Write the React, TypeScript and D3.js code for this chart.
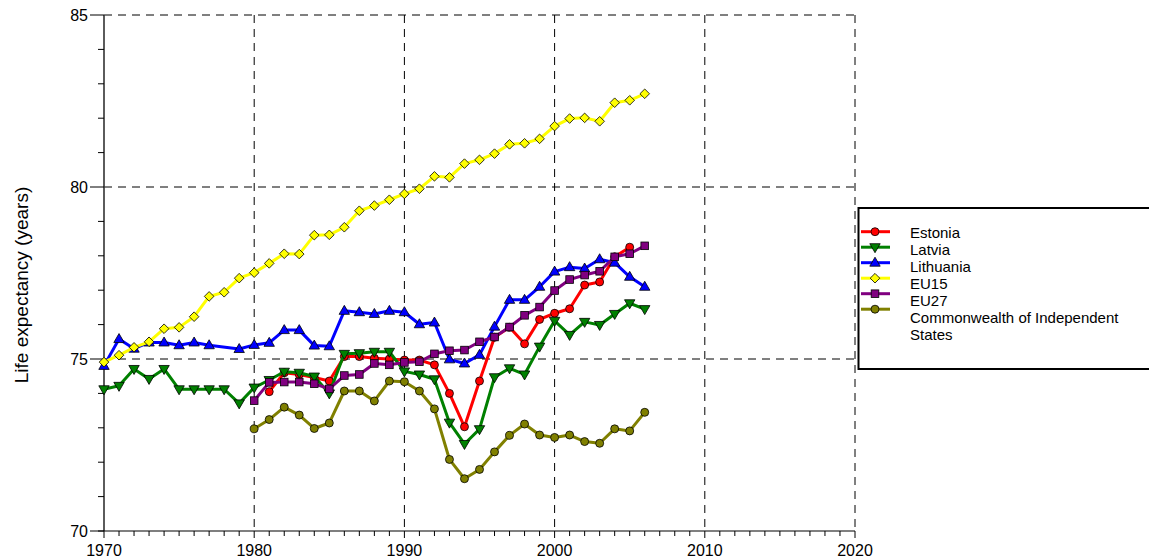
import React from 'react';
import * as d3 from 'd3';

const years = [1970, 1971, 1972, 1973, 1974, 1975, 1976, 1977, 1978, 1979,
  1980, 1981, 1982, 1983, 1984, 1985, 1986, 1987, 1988, 1989,
  1990, 1991, 1992, 1993, 1994, 1995, 1996, 1997, 1998, 1999,
  2000, 2001, 2002, 2003, 2004, 2005, 2006];

const estonia = [null, null, null, null, null, null, null, null, null, null,
  null, 74.05, 74.6, 74.55, 74.46, 74.36, 75.07, 75.07, 75.02, 75.0,
  74.97, 74.97, 74.83, 74.0, 73.03, 74.36, 75.63, 75.92, 75.44, 76.15,
  76.33, 76.46, 77.15, 77.24, 77.97, 78.25, null];
const latvia = [74.12, 74.22, 74.71, 74.42, 74.71, 74.12, 74.12, 74.12, 74.12, 73.71,
  74.17, 74.39, 74.63, 74.6, 74.49, 74.0, 75.15, 75.17, 75.21, 75.21,
  74.64, 74.55, 74.41, 73.15, 72.53, 72.96, 74.47, 74.73, 74.55, 75.36,
  76.11, 75.7, 76.08, 75.99, 76.31, 76.62, 76.45];
const lithuania = [74.8, 75.58, 75.3, 75.48, 75.48, 75.4, 75.48, 75.4, null, 75.29,
  75.41, 75.47, 75.84, 75.84, 75.39, 75.37, 76.4, 76.36, 76.31, 76.4,
  76.36, 76.01, 76.06, 74.99, 74.87, 75.12, 75.94, 76.72, 76.72, 77.1,
  77.54, 77.67, 77.63, 77.9, 77.8, 77.39, 77.1];
const eu15 = [74.91, 75.11, 75.34, 75.5, 75.88, 75.92, 76.23, 76.82, 76.94, 77.35,
  77.51, 77.78, 78.06, 78.05, 78.6, 78.61, 78.83, 79.31, 79.46, 79.63,
  79.8, 79.95, 80.31, 80.28, 80.68, 80.79, 80.97, 81.24, 81.27, 81.4,
  81.77, 81.99, 82.01, 81.91, 82.45, 82.52, 82.71];
const eu27 = [null, null, null, null, null, null, null, null, null, null,
  73.79, 74.32, 74.33, 74.33, 74.28, 74.13, 74.52, 74.55, 74.87, 74.83,
  74.9, 74.92, 75.15, 75.24, 75.26, 75.5, 75.64, 75.93, 76.27, 76.51,
  76.99, 77.31, 77.44, 77.55, 77.97, 78.06, 78.29];
const cis = [null, null, null, null, null, null, null, null, null, null,
  72.97, 73.24, 73.6, 73.37, 72.98, 73.14, 74.07, 74.07, 73.78, 74.36,
  74.34, 74.07, 73.55, 72.08, 71.52, 71.79, 72.3, 72.78, 73.11, 72.79,
  72.72, 72.79, 72.6, 72.55, 72.97, 72.91, 73.45];

const seriesNames = ['Estonia', 'Latvia', 'Lithuania', 'EU15', 'EU27', 'Commonwealth of Independent States'];
const legendLines = [['Estonia'], ['Latvia'], ['Lithuania'], ['EU15'], ['EU27'], ['Commonwealth of Independent', 'States']];
const xTicks = [1970, 1980, 1990, 2000, 2010, 2020];
const yTicks = [70, 75, 80, 85];

const series = [
  { name: seriesNames[0], values: estonia, color: '#ff0000', marker: 'circle' },
  { name: seriesNames[1], values: latvia, color: '#008000', marker: 'tridown' },
  { name: seriesNames[2], values: lithuania, color: '#0000ff', marker: 'triup' },
  { name: seriesNames[3], values: eu15, color: '#ffff00', marker: 'diamond' },
  { name: seriesNames[4], values: eu27, color: '#800080', marker: 'square' },
  { name: seriesNames[5], values: cis, color: '#808000', marker: 'circle' },
];

const FONT = 'Liberation Sans, Arial, sans-serif';

function Marker({ type, x, y, fill }: any) {
  const st = { fill, stroke: '#000', strokeWidth: 0.8 };
  if (type === 'circle') return <circle cx={x} cy={y} r={4} {...st} />;
  if (type === 'square') return <rect x={x - 3.8} y={y - 3.8} width={7.6} height={7.6} {...st} />;
  if (type === 'diamond')
    return <path d={`M${x},${y - 4.8}L${x + 4.8},${y}L${x},${y + 4.8}L${x - 4.8},${y}Z`} {...st} />;
  if (type === 'triup')
    return <path d={`M${x},${y - 5.5}L${x + 5.2},${y + 3.5}L${x - 5.2},${y + 3.5}Z`} {...st} />;
  return <path d={`M${x},${y + 5.5}L${x + 5.2},${y - 3.5}L${x - 5.2},${y - 3.5}Z`} {...st} />;
}

export default function App() {
  const x = d3.scaleLinear().domain([1970, 2020]).range([104, 855]);
  const y = d3.scaleLinear().domain([70, 85]).range([531, 15]);

  const line = d3.line<[number, number]>()
    .x(d => x(d[0]))
    .y(d => y(d[1]));

  const minorX = d3.range(1970, 2021);
  const minorY = d3.range(70, 86);

  return (
    <svg width={1149} height={560} style={{ position: 'absolute', left: 0, top: 0, background: '#fff' }}
      fontFamily={FONT}>
      {/* grid */}
      {xTicks.slice(1).map(t => (
        <line key={'gx' + t} x1={x(t)} x2={x(t)} y1={y(85)} y2={y(70)}
          stroke="#000" strokeWidth={1} strokeDasharray="8,6" />
      ))}
      {yTicks.slice(1).map(t => (
        <line key={'gy' + t} x1={90} x2={x(2020)} y1={y(t)} y2={y(t)}
          stroke="#000" strokeWidth={1} strokeDasharray="8,6" />
      ))}
      {/* axes */}
      <line x1={x(1970)} x2={x(1970)} y1={y(85)} y2={y(70)} stroke="#333" strokeWidth={1.6} />
      <line x1={x(1970)} x2={x(2020)} y1={y(70)} y2={y(70)} stroke="#000" strokeWidth={1.2} />
      <line x1={90} x2={x(1970)} y1={y(70)} y2={y(70)} stroke="#000" strokeWidth={1} />
      {minorY.map(t => (
        <line key={'my' + t} x1={x(1970) - 6} x2={x(1970)} y1={y(t)} y2={y(t)} stroke="#000" strokeWidth={1} />
      ))}
      {minorX.map(t => (
        <line key={'mx' + t} x1={x(t)} x2={x(t)} y1={y(70)} y2={y(70) + (t % 10 === 0 ? 7 : 5)}
          stroke="#000" strokeWidth={1} />
      ))}
      {yTicks.map(t => (
        <text key={'ly' + t} x={88} y={y(t)} dy="0.35em" textAnchor="end" fontSize={16}>{t}</text>
      ))}
      {xTicks.map(t => (
        <text key={'lx' + t} x={x(t)} y={556} textAnchor="middle" fontSize={16}>{t}</text>
      ))}
      <text transform={`translate(28,${y(77.5) + 12}) rotate(-90)`} textAnchor="middle" fontSize={19}>
        Life expectancy (years)
      </text>

      {/* series */}
      {series.map(s => {
        const pts = years.map((yr, i) => [yr, s.values[i]] as [number, number | null])
          .filter(p => p[1] !== null) as [number, number][];
        return (
          <g key={s.name}>
            <path d={line(pts) || ''} fill="none" stroke={s.color} strokeWidth={3} strokeLinejoin="round" />
            {pts.map(p => (
              <Marker key={p[0]} type={s.marker} x={x(p[0])} y={y(p[1])} fill={s.color} />
            ))}
          </g>
        );
      })}

      {/* legend */}
      <g>
        <rect x={858.5} y={208} width={300} height={161} fill="#fff" stroke="#000" strokeWidth={2} />
        {series.map((s, i) => {
          const ly = 231.7 + i * 15.5;
          return (
            <g key={'lg' + s.name}>
              <line x1={861} x2={890} y1={ly} y2={ly} stroke={s.color} strokeWidth={3} />
              <Marker type={s.marker} x={875} y={ly} fill={s.color} />
            </g>
          );
        })}
        {legendLines.map((rows, i) => rows.map((r, j) => (
          <text key={'lt' + i + j} x={910} y={233 + (i + j) * 17} dy="0.35em" fontSize={15}>{r}</text>
        )))}
      </g>
    </svg>
  );
}
